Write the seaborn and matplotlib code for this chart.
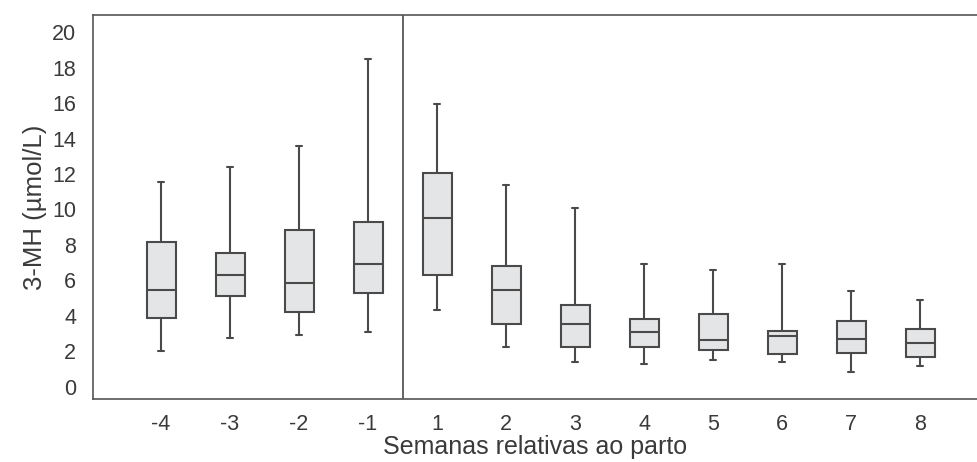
import numpy as np
import pandas as pd
import seaborn as sns
import matplotlib.pyplot as plt

# weeks relative to calving and the box summaries
weeks = ["-4", "-3", "-2", "-1", "1", "2", "3", "4", "5", "6", "7", "8"]
low = [2.03, 2.78, 2.91, 3.10, 4.32, 2.27, 1.39, 1.30, 1.50, 1.41, 0.86, 1.17]
q1 = [3.90, 5.13, 4.21, 5.28, 6.31, 3.57, 2.27, 2.27, 2.08, 1.86, 1.92, 1.71]
median = [5.48, 6.29, 5.84, 6.93, 9.50, 5.46, 3.57, 3.10, 2.65, 2.87, 2.69, 2.50]
q3 = [8.15, 7.55, 8.85, 9.28, 12.06, 6.82, 4.62, 3.81, 4.11, 3.17, 3.74, 3.27]
high = [11.57, 12.37, 13.58, 18.46, 15.93, 11.40, 10.08, 6.93, 6.59, 6.91, 5.43, 4.92]

# five points per week: min, Q1, median, Q3, max -> quartiles come out exact
rows = []
for i, w in enumerate(weeks):
    for v in (low[i], q1[i], median[i], q3[i], high[i]):
        rows.append({"semana": w, "valor": v})
df = pd.DataFrame(rows)

sns.set_theme(style="white")
plt.rcParams["font.family"] = ["Liberation Sans", "DejaVu Sans"]

fig = plt.figure(figsize=(9.78, 4.62), dpi=100)
ax = fig.add_axes([0.0951, 0.1364, 0.9049, 0.8312])

edge = "#4a4a4a"
sns.boxplot(data=df, x="semana", y="valor", order=weeks, ax=ax,
            color="#e4e5e7", saturation=1, linecolor=edge, linewidth=1.5,
            width=0.42, whis=(0, 100), showfliers=False, capwidths=0.1)

ax.axvline(3.5, color=edge, lw=1.2)

ax.set_xlim(-0.986, 11.84)
ax.set_ylim(-0.676, 20.96)
ax.set_yticks(np.arange(0, 21, 2))

for side in ("left", "top", "bottom"):
    ax.spines[side].set_visible(True)
    ax.spines[side].set_color("#555555")
    ax.spines[side].set_linewidth(1.2)
ax.spines["right"].set_visible(False)

ax.tick_params(axis="both", length=0, labelsize=15.5, labelcolor="#3a3a3a")
ax.tick_params(axis="y", pad=12)
ax.tick_params(axis="x", pad=11)

ax.set_xlabel("Semanas relativas ao parto", fontsize=18, color="#3a3a3a", labelpad=0)
ax.set_ylabel("3-MH (µmol/L)", fontsize=18.5, color="#3a3a3a", labelpad=4)

fig.savefig("out.png", dpi=100)
